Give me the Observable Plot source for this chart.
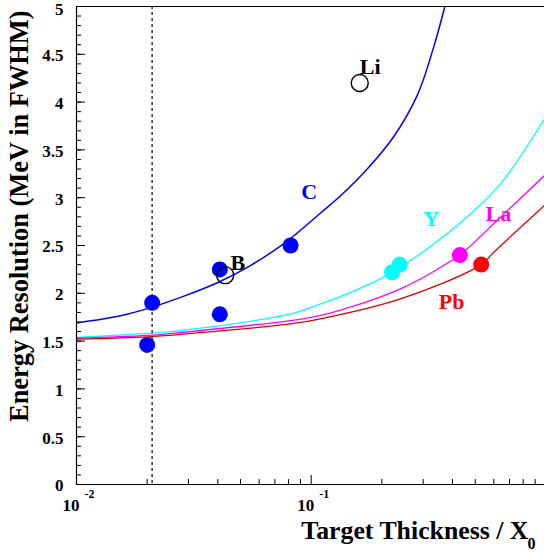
<!DOCTYPE html>
<html>
<head>
<meta charset="utf-8">
<script src="https://cdn.jsdelivr.net/npm/d3@7"></script>
<script src="https://cdn.jsdelivr.net/npm/@observablehq/plot@0.6"></script>
<style>
  html, body { margin: 0; padding: 0; background: #fff; }
  svg { display: block; }
</style>
</head>
<body>
<div id="chart"></div>
<script>
// ---- data ----
// Fitted curves: thickness (X0) and resolution (MeV)
const curveC_x  = [0.01, 0.0154, 0.0207, 0.0287, 0.0398, 0.0551, 0.0765, 0.0871, 0.1096, 0.1334, 0.1733, 0.2249, 0.283, 0.333, 0.371];
const curveC_y  = [1.69, 1.765, 1.85, 1.97, 2.11, 2.29, 2.52, 2.63, 2.84, 3.02, 3.30, 3.64, 4.07, 4.58, 5.0];
const curveY_x  = [0.01, 0.02, 0.0277, 0.0817, 0.1096, 0.1423, 0.2035, 0.221, 0.312, 0.462, 0.6407, 0.9864];
const curveY_y  = [1.54, 1.58, 1.61, 1.785, 1.89, 1.995, 2.17, 2.22, 2.465, 2.80, 3.145, 3.825];
const curveLa_x = [0.01, 0.02, 0.0277, 0.0817, 0.1096, 0.24, 0.43, 0.462, 0.6407, 0.9864];
const curveLa_y = [1.53, 1.56, 1.59, 1.715, 1.768, 2.047, 2.40, 2.465, 2.796, 3.232];
const curvePb_x = [0.01, 0.02, 0.0277, 0.0817, 0.1096, 0.24, 0.53, 0.5998, 0.9864];
const curvePb_y = [1.52, 1.545, 1.57, 1.68, 1.733, 1.942, 2.30, 2.43, 2.92];

// Measured points
const filledSeries = ["C", "C", "C", "C", "C", "Y", "Y", "La", "Pb"];
const filledX      = [0.021, 0.02, 0.0408, 0.0408, 0.0817, 0.221, 0.238, 0.43, 0.53];
const filledY      = [1.90, 1.46, 2.25, 1.78, 2.50, 2.22, 2.30, 2.40, 2.30];
const openX        = [0.043, 0.161];
const openY        = [2.19, 4.20];

// Annotation labels
const labelText   = ["C", "B", "Li", "Y", "La", "Pb"];
const labelSeries = ["C", "open", "open", "Y", "La", "Pb"];
const labelX      = [0.0907, 0.0453, 0.161, 0.300, 0.553, 0.3498];
const labelY      = [2.99, 2.246, 4.29, 2.70, 2.76, 1.84];

const cutX = 0.021;

// Axis ticks
const yMajor = [0, 0.5, 1, 1.5, 2, 2.5, 3, 3.5, 4, 4.5, 5];
const yMajorLabels = ["0", "0.5", "1", "1.5", "2", "2.5", "3", "3.5", "4", "4.5", "5"];
const yMinor = d3.range(0, 51).map(i => i / 10);
const xMajor = [0.01, 0.1];
const xMajorExp = ["-2", "-1"];
const xMinor = [0.02, 0.03, 0.04, 0.05, 0.06, 0.07, 0.08, 0.09, 0.2, 0.3, 0.4, 0.5, 0.6, 0.7, 0.8, 0.9];

const xTitle = "Target Thickness / X";
const xTitleSub = "0";
const yTitle = "Energy Resolution (MeV in FWHM)";

// ---- build tables ----
const colors = {C: "#0000ff", Y: "#00ffff", La: "#ff00ff", Pb: "#ff0000", open: "#000000"};
function toRows(xs, ys, s) { return xs.map((x, i) => ({x, y: ys[i], s})); }
const curves = [
  ...toRows(curveC_x, curveC_y, "C"),
  ...toRows(curveY_x, curveY_y, "Y"),
  ...toRows(curveLa_x, curveLa_y, "La"),
  ...toRows(curvePb_x, curvePb_y, "Pb")
];
const filled = filledX.map((x, i) => ({x, y: filledY[i], s: filledSeries[i]}));
const open = openX.map((x, i) => ({x, y: openY[i]}));
const labels = labelText.map((t, i) => ({t, x: labelX[i], y: labelY[i], s: labelSeries[i]}));
const yMaj = yMajor.map((v, i) => ({v, t: yMajorLabels[i]}));
const xMaj = xMajor.map((v, i) => ({v, e: xMajorExp[i]}));
const yTop = yMajor[yMajor.length - 1];

const W = 544, H = 552;
const mL = 76, mR = 0, mT = 6, mB = 68;
const frameW = W - mL - mR, frameH = H - mT - mB;
const font = "'Liberation Serif', 'Times New Roman', 'DejaVu Serif', serif";
const crv = "catmull-rom";
const yLabStyle = {text: "t", frameAnchor: "left", dx: -13, textAnchor: "end", lineAnchor: "middle", fontSize: 17, fontWeight: "bold", fill: "#000"};

const plot = Plot.plot({
  width: W,
  height: H,
  marginLeft: mL,
  marginRight: mR,
  marginTop: mT,
  marginBottom: mB,
  style: {fontFamily: font, background: "#fff", overflow: "visible"},
  x: {type: "log", domain: [0.01, 0.9864], axis: null},
  y: {domain: [0, 5], axis: null},
  marks: [
    // curves
    Plot.line(curves.filter(d => d.s === "C"), {x: "x", y: "y", stroke: colors.C, strokeWidth: 1.5, curve: crv, clip: true}),
    Plot.line(curves.filter(d => d.s === "Y"), {x: "x", y: "y", stroke: colors.Y, strokeWidth: 1.3, curve: crv, clip: true}),
    Plot.line(curves.filter(d => d.s === "La"), {x: "x", y: "y", stroke: colors.La, strokeWidth: 1.3, curve: crv, clip: true}),
    Plot.line(curves.filter(d => d.s === "Pb"), {x: "x", y: "y", stroke: "#e00000", strokeWidth: 1.3, curve: crv, clip: true}),
    // dashed cut line
    Plot.ruleX([cutX], {stroke: "#333", strokeWidth: 1.5, strokeDasharray: "3,3"}),
    // filled points
    Plot.dot(filled, {x: "x", y: "y", r: 8, fill: d => colors[d.s], stroke: "none"}),
    // open points
    Plot.dot(open, {x: "x", y: "y", r: 8.5, fill: "none", stroke: "#000", strokeWidth: 1.4}),
    // labels
    Plot.text(labels, {x: "x", y: "y", text: "t", fill: d => colors[d.s], textAnchor: "start", lineAnchor: "bottom", fontSize: 22, fontWeight: "bold"}),
    // frame lines
    Plot.ruleY([0], {stroke: "#000", strokeWidth: 1.2}),
    Plot.ruleY([5], {stroke: "#000", strokeWidth: 1.2}),
    Plot.ruleX([0.01], {stroke: "#000", strokeWidth: 1.2}),
    // y ticks (inward)
    Plot.tickY(yMinor, {y: d => d, stroke: "#000", strokeWidth: 1, insetRight: frameW - 5}),
    Plot.tickY(yMajor, {y: d => d, stroke: "#000", strokeWidth: 1, insetRight: frameW - 9}),
    Plot.text(yMaj.filter(d => d.v !== yTop), {y: "v", dy: 1.5, ...yLabStyle}),
    Plot.text(yMaj.filter(d => d.v === yTop), {y: "v", dy: 3.5, ...yLabStyle}),
    // x ticks (inward)
    Plot.tickX(xMinor, {x: d => d, stroke: "#000", strokeWidth: 1, insetTop: frameH - 5}),
    Plot.tickX(xMajor, {x: d => d, stroke: "#000", strokeWidth: 1, insetTop: frameH - 9}),
    Plot.text(xMaj, {x: "v", text: () => "10", frameAnchor: "bottom", dx: -14, dy: 26, textAnchor: "start", lineAnchor: "bottom", fontSize: 17, fontWeight: "bold", fill: "#000"}),
    Plot.text(xMaj, {x: "v", text: "e", frameAnchor: "bottom", dx: 8, dy: 13, textAnchor: "start", lineAnchor: "bottom", fontSize: 12, fontWeight: "bold", fill: "#000"}),
    // axis titles
    Plot.text([xTitle], {text: d => d, frameAnchor: "bottom-right", dx: -16, dy: 54, textAnchor: "end", lineAnchor: "bottom", fontSize: 25.8, fontWeight: "bold", fill: "#000"}),
    Plot.text([xTitleSub], {text: d => d, frameAnchor: "bottom-right", dx: -9, dy: 64, textAnchor: "end", lineAnchor: "bottom", fontSize: 16, fontWeight: "bold", fill: "#000"}),
    Plot.text([yTitle], {text: d => d, frameAnchor: "top-left", dx: -49, dy: 4, rotate: -90, textAnchor: "end", lineAnchor: "bottom", fontSize: 26.4, fontWeight: "bold", fill: "#000"})
  ]
});
document.getElementById("chart").appendChild(plot);
</script>
</body>
</html>
